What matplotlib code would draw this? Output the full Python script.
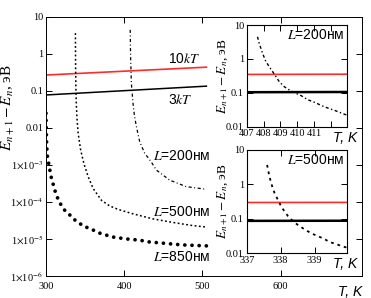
import matplotlib
matplotlib.use("Agg")
import matplotlib.pyplot as plt

plt.rcParams['mathtext.fontset'] = 'stix'
plt.rcParams['font.family'] = ['Liberation Serif', 'DejaVu Serif']

# 10kT and 3kT lines
t_kt = [300, 505]
e_10kt = [0.27, 0.44]
e_3kt = [0.078, 0.135]

# L = 200 nm
t_200 = [407.64, 407.74, 407.94, 408.14, 408.34, 408.54, 408.74, 408.94, 409.24, 409.54,
         409.84, 410.24, 410.64, 411.04, 411.44, 411.84, 412.24, 412.64, 412.94, 415.5,
         419.7, 426, 434.6, 441, 458, 479, 505]
e_200 = [4.5, 2.9, 1.47, 0.83, 0.59, 0.42, 0.30, 0.21, 0.15, 0.12,
         0.10, 0.082, 0.062, 0.052, 0.042, 0.035, 0.030, 0.025, 0.022, 0.011,
         0.0043, 0.0021, 0.0012, 7.3e-4, 3.9e-4, 2.6e-4, 2.2e-4]

# L = 500 nm
t_500 = [337.60, 337.66, 337.72, 337.82, 337.92, 338.02, 338.12, 338.21, 338.36, 338.51,
         338.66, 338.85, 339.05, 339.24, 339.44, 339.64, 339.88, 341.1, 344.2, 348.4,
         353.9, 360.3, 371, 381.5, 392.1, 410.8, 436.3, 461.8, 487.3, 505]
e_500 = [3.65, 1.86, 1.07, 0.55, 0.35, 0.22, 0.16, 0.12, 0.085, 0.065,
         0.052, 0.040, 0.032, 0.027, 0.021, 0.018, 0.015, 0.0072, 0.0026, 0.0011,
         4.8e-4, 2.3e-4, 1.1e-4, 7.8e-5, 6.3e-5, 4.8e-5, 3.5e-5, 2.8e-5, 2.3e-5, 2.1e-5]

# L = 850 nm
t_850 = [300.0, 300.2, 300.6, 301.5, 303.5, 306.5, 309, 311.5, 314, 316.5,
         320.5, 324.5, 329.5, 334.5, 341, 347.5, 354, 360, 368, 385,
         403, 419, 432, 474, 505]
e_850 = [0.025, 0.012, 0.0047, 0.0019, 0.00107, 4.8e-4, 3.1e-4, 2.0e-4, 1.45e-4, 1.0e-4,
         7.8e-5, 5.7e-5, 4.7e-5, 3.5e-5, 2.9e-5, 2.2e-5, 2.0e-5, 1.75e-5, 1.45e-5, 1.13e-5,
         1.0e-5, 9.3e-6, 8.3e-6, 6.9e-6, 6.5e-6]

main_yticks = [1e1, 1, 0.1, 0.01, 1e-3, 1e-4, 1e-5, 1e-6]
main_ylabels = ['10', '1', '0.1', '0.01', r'1$\times$10$^{-3}$', r'1$\times$10$^{-4}$',
                r'1$\times$10$^{-5}$', r'1$\times$10$^{-6}$']
main_xticks = [300, 400, 500, 600]
inset_yticks = [10, 1, 0.1, 0.01]
inset_ylabels = ['10', '1', '0.1', '0.01']
inset1_xticks = [407, 408, 409, 410, 411, 412]
inset1_xlabels = ['407', '408', '409', '410', '411', '']
inset2_xticks = [337, 338, 339]

RED = '#ff2a2a'
SANS = 'Liberation Sans'
ylab = r'$E_{n+1}-E_n$, эВ'

fig = plt.figure(figsize=(3.71, 2.98), dpi=100)

ax = fig.add_axes([0.124, 0.074, 0.852, 0.869])
ax.plot(t_kt, e_10kt, color=RED, lw=1.2)
ax.plot(t_kt, e_3kt, color='black', lw=1.1)
ax.plot(t_200, e_200, color='black', lw=0.9, linestyle=(0, (2.5, 2, 0.8, 2)))
ax.plot(t_500, e_500, color='black', lw=1.1, linestyle=(0, (1.2, 1.6)))
ax.plot(t_850, e_850, color='black', lw=2.7, linestyle=(0, (0.01, 1.9)),
        dash_capstyle='round')
ax.set_yscale('log')
ax.set_xlim(300, 704)
ax.set_ylim(1e-6, 10)
ax.set_yticks(main_yticks)
ax.set_yticklabels(main_ylabels)
ax.minorticks_off()
ax.set_xticks(main_xticks)
ax.tick_params(direction='in', length=4, labelsize=7.5, top=True, right=True, pad=2, width=0.7)
ax.tick_params(axis='x', pad=4)
ax.set_ylabel(ylab, fontsize=11)
ax.yaxis.set_label_coords(-0.092, 0.65)
for s in ax.spines.values():
    s.set_linewidth(0.7)
ax.text(1.0, -0.035, 'T, K', transform=ax.transAxes, ha='right', va='top',
        fontsize=10, family=SANS, style='italic')

ax.text(456, 0.75, r'10$\mathit{kT}$', fontsize=10, family=SANS, va='center')
ax.text(456, 0.058, r'3$\mathit{kT}$', fontsize=10, family=SANS, va='center')
for lab, yy in [('200', 1.8e-3), ('500', 5.5e-5), ('850', 3.2e-6)]:
    ax.text(437, yy, r'$\mathit{L}$=' + lab + 'нм', fontsize=10, family=SANS, va='center')


def inset(rect, xlim, xticks, xlabels, lab):
    a = fig.add_axes(rect)
    a.plot(t_kt, e_10kt, color=RED, lw=1.2)
    a.plot(t_kt, e_3kt, color='black', lw=1.8)
    if lab == '200':
        a.plot(t_200, e_200, color='black', lw=1.0, linestyle=(0, (2.2, 1.8, 1.0, 1.8)))
    else:
        a.plot(t_500, e_500, color='black', lw=1.3, linestyle=(0, (1.5, 2.2)))
    a.set_yscale('log')
    a.set_xlim(*xlim)
    a.set_ylim(0.01, 10)
    a.set_yticks(inset_yticks)
    a.set_yticklabels(inset_ylabels)
    a.minorticks_off()
    a.set_xticks(xticks)
    a.set_xticklabels(xlabels)
    a.tick_params(direction='in', length=4, labelsize=7.5, top=True, right=True, pad=2, width=0.7)
    a.set_ylabel(ylab, fontsize=9.5)
    a.yaxis.set_label_coords(-0.17, 0.5)
    for s in a.spines.values():
        s.set_linewidth(0.8)
    a.text(1.1, -0.04, 'T, K', transform=a.transAxes, ha='right', va='top',
           fontsize=10, family=SANS, style='italic')
    a.text(0.97, 0.9, r'$\mathit{L}$=' + lab + 'нм', transform=a.transAxes, ha='right',
           va='center', fontsize=10, family=SANS)
    return a


inset([0.665, 0.575, 0.270, 0.341], (407, 412.95), inset1_xticks, inset1_xlabels, '200')
inset([0.665, 0.151, 0.270, 0.346], (337, 339.95), inset2_xticks,
      [str(v) for v in inset2_xticks], '500')

fig.savefig('out.png', dpi=100)
